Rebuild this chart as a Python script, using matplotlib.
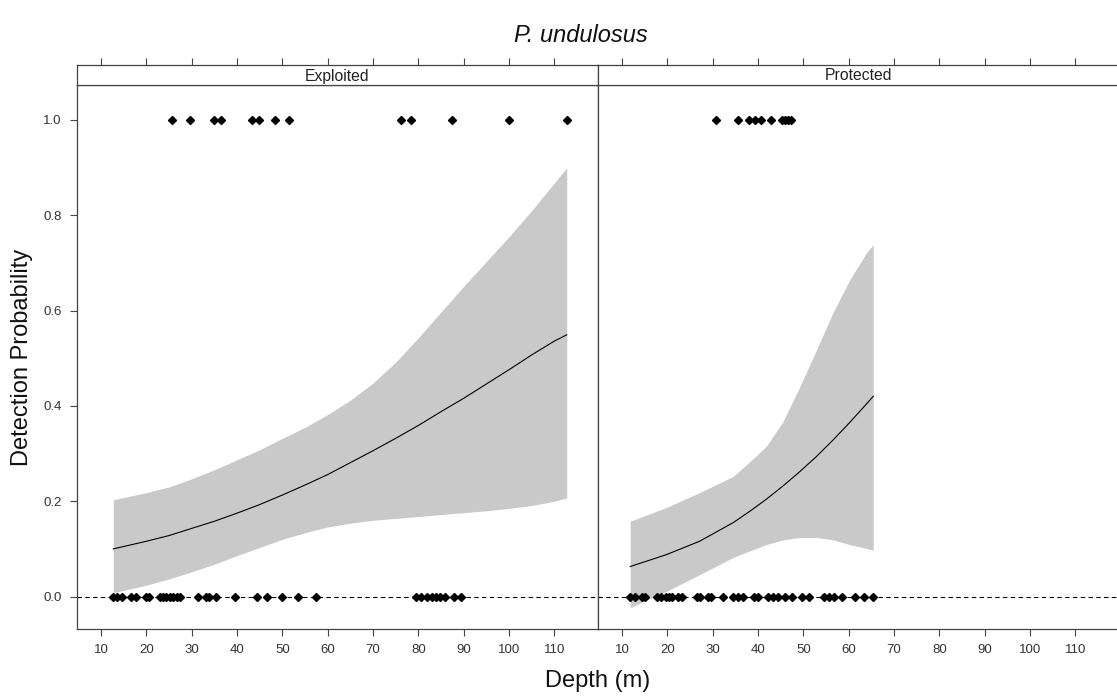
import matplotlib
matplotlib.use("Agg")
import matplotlib.pyplot as plt
import numpy as np

plt.rcParams['font.family'] = ['Liberation Sans', 'DejaVu Sans']

# --- data ---
panels = ['Exploited', 'Protected']

# observed detections (y = 1) and non-detections (y = 0), depth in m
expl_det = [25.6, 29.6, 34.9, 36.4, 43.3, 44.9, 48.3, 51.4, 76.2, 78.3, 87.3, 100.0, 112.7]
expl_non = [12.7, 13.6, 14.6, 16.7, 17.7, 19.9, 20.5, 23.1, 23.7, 24.4, 25.2, 25.9, 26.7,
            27.5, 31.3, 33.2, 33.9, 35.4, 39.5, 44.4, 46.7, 49.9, 53.5, 57.3, 79.5, 80.6,
            81.8, 82.9, 83.9, 84.8, 85.9, 87.8, 89.3]
prot_det = [30.7, 35.5, 38.1, 39.4, 40.7, 42.9, 45.2, 45.9, 46.6, 47.2]
prot_non = [11.8, 12.9, 14.4, 15.1, 17.7, 18.5, 19.6, 20.3, 21.0, 22.3, 23.3, 26.5, 27.3,
            29.0, 29.7, 32.2, 34.4, 35.5, 36.6, 39.2, 39.9, 42.2, 43.3, 44.4, 45.9, 47.4,
            49.7, 51.2, 54.6, 55.7, 56.8, 58.6, 61.4, 63.3, 65.3]

# fitted curve and confidence band
expl_x = [12.7, 20, 25, 30, 35, 40, 45, 50, 55, 60, 65, 70, 75, 80, 85, 90, 95, 100, 105, 110, 112.7]
expl_fit = [0.100, 0.116, 0.128, 0.143, 0.158, 0.175, 0.193, 0.213, 0.234, 0.256, 0.281,
            0.306, 0.332, 0.359, 0.388, 0.416, 0.446, 0.476, 0.507, 0.536, 0.549]
expl_hi = [0.203, 0.218, 0.230, 0.247, 0.266, 0.287, 0.308, 0.332, 0.355, 0.382, 0.412,
           0.448, 0.492, 0.543, 0.597, 0.651, 0.703, 0.755, 0.810, 0.868, 0.899]
expl_lo = [0.008, 0.024, 0.037, 0.052, 0.068, 0.086, 0.103, 0.120, 0.134, 0.146, 0.154,
           0.160, 0.164, 0.168, 0.172, 0.176, 0.180, 0.185, 0.191, 0.200, 0.207]

prot_x = [11.8, 19.8, 27.1, 34.5, 38.2, 41.8, 45.5, 49.2, 52.9, 56.5, 60.2, 63.9, 65.4]
prot_fit = [0.063, 0.088, 0.116, 0.155, 0.179, 0.204, 0.232, 0.262, 0.294, 0.328, 0.365, 0.404, 0.420]
prot_hi = [0.158, 0.187, 0.218, 0.252, 0.283, 0.315, 0.367, 0.440, 0.518, 0.595, 0.664, 0.721, 0.738]
prot_lo = [-0.023, 0.011, 0.046, 0.082, 0.096, 0.109, 0.119, 0.124, 0.124, 0.119, 0.109, 0.101, 0.097]

x_ticks = [10, 20, 30, 40, 50, 60, 70, 80, 90, 100, 110]
y_ticks = [0.0, 0.2, 0.4, 0.6, 0.8, 1.0]

data = {
    'Exploited': (expl_det, expl_non, expl_x, expl_fit, expl_lo, expl_hi),
    'Protected': (prot_det, prot_non, prot_x, prot_fit, prot_lo, prot_hi),
}

W, H = 1117, 696
fig = plt.figure(figsize=(W / 100, H / 100), dpi=100)

frame_col = '#444444'
txt_col = '#333333'
left_px = [77, 598]
pw = 521
bot_px, top_px, strip_px = 629, 85, 65

for i, name in enumerate(panels):
    det, non, xs, fit, lo, hi = data[name]
    ax = fig.add_axes([left_px[i] / W, 1 - bot_px / H, pw / W, (bot_px - top_px) / H])
    ax.fill_between(xs, lo, hi, color='#c9c9c9', lw=0)
    ax.plot(xs, fit, color='black', lw=0.8)
    ax.axhline(0, color='black', lw=0.8, ls=(0, (4, 3)))
    ax.plot(det, np.ones(len(det)), 'D', color='black', ms=3.6)
    ax.plot(non, np.zeros(len(non)), 'D', color='black', ms=3.6)
    ax.set_xlim(4.7, 119.6)
    ax.set_ylim(-0.068, 1.073)
    ax.set_xticks(x_ticks)
    ax.set_yticks(y_ticks)
    ax.set_yticklabels(['%.1f' % v for v in y_ticks])
    ax.tick_params(direction='out', length=5, width=0.8, color=frame_col,
                   labelsize=9.5, labelcolor=txt_col, pad=6)
    if i > 0:
        ax.tick_params(axis='y', left=False, labelleft=False)
    for s in ax.spines.values():
        s.set_color(frame_col)
        s.set_linewidth(0.9)

    # strip on top
    st = fig.add_axes([left_px[i] / W, 1 - top_px / H, pw / W, (top_px - strip_px) / H])
    st.set_xlim(4.7, 119.6)
    st.set_ylim(0, 1)
    st.set_xticks(x_ticks)
    st.set_yticks([])
    st.xaxis.tick_top()
    st.tick_params(axis='x', direction='out', length=5, width=0.8, color=frame_col,
                   labeltop=False, labelbottom=False)
    for s in st.spines.values():
        s.set_color(frame_col)
        s.set_linewidth(0.9)
    st.text(0.5, 0.45, name, transform=st.transAxes, ha='center', va='center',
            fontsize=11.3, color='#222222')

fig.text(581 / W, 1 - 35 / H, 'P. undulosus', ha='center', va='center',
         fontsize=17, style='italic', color='#111111')
fig.text(22 / W, 1 - 357 / H, 'Detection Probability', ha='center', va='center',
         rotation=90, fontsize=17, color='#111111')
fig.text(598 / W, 1 - 681 / H, 'Depth (m)', ha='center', va='center',
         fontsize=17, color='#111111')

fig.savefig('out.png', dpi=100)
